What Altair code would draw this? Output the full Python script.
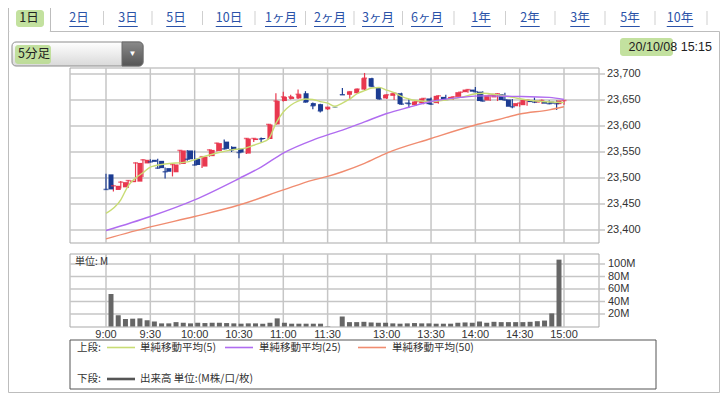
import altair as alt
import pandas as pd

# ---------------- data ----------------
tab_labels = ["1日", "2日", "3日", "5日", "10日", "1ヶ月", "2ヶ月", "3ヶ月", "6ヶ月",
              "1年", "2年", "3年", "5年", "10年"]
interval_label = "5分足"
date_label = "20/10/08"
clock_label = "15:15"

opens = [23507, 23477, 23482, 23492, 23493, 23528, 23535, 23533, 23519, 23511,
         23527, 23553, 23537, 23522, 23542, 23552, 23570, 23560, 23556, 23547,
         23573, 23577, 23575, 23603, 23648, 23652, 23653, 23663, 23644, 23642,
         23632, 23636, 23661, 23660, 23663, 23670, 23692, 23674, 23653, 23658,
         23663, 23645, 23640, 23644, 23653, 23644, 23656, 23651, 23656, 23665,
         23670, 23666, 23649, 23655, 23661, 23651, 23638, 23640, 23650, 23645,
         23648, 23647, 23642]
highs = [23508, 23487, 23494, 23496, 23530, 23536, 23536, 23537, 23520, 23527,
         23554, 23554, 23553, 23542, 23555, 23568, 23574, 23561, 23557, 23577,
         23577, 23578, 23604, 23663, 23666, 23660, 23670, 23667, 23645, 23643,
         23637, 23637, 23673, 23667, 23672, 23702, 23693, 23675, 23661, 23664,
         23664, 23652, 23648, 23654, 23655, 23659, 23660, 23657, 23666, 23671,
         23675, 23667, 23660, 23663, 23664, 23652, 23645, 23651, 23655, 23651,
         23649, 23649, 23650]
lows = [23477, 23474, 23480, 23481, 23492, 23502, 23530, 23518, 23499, 23503,
        23526, 23533, 23524, 23519, 23541, 23551, 23555, 23550, 23538, 23546,
        23569, 23569, 23574, 23602, 23647, 23651, 23652, 23645, 23632, 23626,
        23631, 23635, 23660, 23651, 23662, 23669, 23675, 23651, 23652, 23650,
        23641, 23635, 23639, 23642, 23641, 23643, 23650, 23650, 23655, 23664,
        23665, 23647, 23648, 23648, 23649, 23634, 23637, 23639, 23644, 23643,
        23642, 23631, 23641]
closes = [23478, 23485, 23492, 23495, 23529, 23535, 23531, 23519, 23512, 23526,
          23553, 23536, 23525, 23541, 23554, 23567, 23556, 23554, 23549, 23576,
          23576, 23575, 23603, 23648, 23656, 23656, 23661, 23646, 23639, 23629,
          23636, 23636, 23660, 23666, 23671, 23692, 23676, 23652, 23660, 23663,
          23642, 23643, 23647, 23653, 23642, 23658, 23651, 23656, 23665, 23670,
          23666, 23648, 23659, 23662, 23650, 23637, 23644, 23650, 23646, 23649,
          23643, 23643, 23649]
volumes = [52, 18, 12, 12.5, 13, 10, 8, 5, 5, 7,
           6, 5, 6, 5.5, 6, 6, 5.5, 5, 4.5, 5,
           5, 4.5, 6, 13, 6, 4.5, 4.5, 4.5, 4.5, 4.5,
           0.5, 0, 16, 7, 7, 7.5, 6.5, 6, 6, 5,
           4.5, 5, 5.5, 5, 5, 4.5, 4.5, 4.5, 6, 6.5,
           6, 8, 6, 7.5, 7, 7, 7, 7, 7.5, 8.5,
           9.5, 21, 107]

ma5_idx = [0, 2, 3, 4, 5, 6, 8, 11, 13, 15, 17, 19, 20, 21, 22, 23, 24, 25, 26, 27,
           28, 29, 30, 31, 32, 33, 34, 35, 36, 37, 38, 39, 40, 41, 42, 44, 46, 48,
           50, 51, 53, 55, 57, 59, 62]
ma5_val = [23432, 23458, 23485, 23500, 23510, 23521, 23527, 23531, 23540, 23548,
           23554, 23558, 23563, 23568, 23575, 23605, 23627, 23640, 23648, 23652,
           23651, 23647, 23644, 23638, 23644, 23652, 23662, 23668, 23673, 23674,
           23669, 23664, 23657, 23652, 23649, 23647, 23650, 23655, 23662, 23663,
           23660, 23655, 23650, 23647, 23645]
ma25_idx = [0, 6, 12, 18, 21, 24, 28, 30, 32, 35, 38, 41, 44, 48, 51, 55, 60, 62]
ma25_val = [23399, 23426, 23458, 23499, 23521, 23548, 23573, 23583, 23592, 23608,
            23624, 23636, 23647, 23655, 23658, 23657, 23655, 23651]
ma50_idx = [0, 6, 12, 18, 24, 28, 30, 32, 35, 38, 44, 50, 53, 56, 60, 62]
ma50_val = [23383, 23406, 23426, 23448, 23477, 23496, 23503, 23512, 23528, 23548,
            23576, 23602, 23612, 23623, 23631, 23637]

price_ticks = [23400, 23450, 23500, 23550, 23600, 23650, 23700]
vol_ticks = [20, 40, 60, 80, 100]
vol_tick_labels = ["20M", "40M", "60M", "80M", "100M"]
time_tick_idx = [0, 6, 12, 18, 24, 30, 38, 44, 50, 56, 62]
time_tick_labels = ["9:00", "9:30", "10:00", "10:30", "11:00", "11:30",
                    "13:00", "13:30", "14:00", "14:30", "15:00"]
ma_names = ["単純移動平均(5)", "単純移動平均(25)", "単純移動平均(50)"]
vol_unit_label = "単位: M"
legend_top_label = "上段:"
legend_bottom_label = "下段:"
legend_volume_label = "出来高 単位:(M株/口/枚)"

# ---------------- layout / style ----------------
W, H = 712, 385
FONT = "Liberation Sans, Noto Sans CJK JP, sans-serif"
JFONT = "Noto Sans CJK JP, sans-serif"
GRID = "#c6c6c6"
FRAME = "#a9a9a9"
TXT = "#333333"
LINK = "#2a52a8"
HILITE = "#b8dc8e"
UP, DOWN, FLAT = "#e8384f", "#1c3c92", "#7f9e9e"
MA_COLORS = ["#c8dc74", "#b06cf0", "#f08c70"]

xs = alt.Scale(domain=[0, 62], range=[98, 556], nice=False, zero=False)
ps = alt.Scale(domain=[23400, 23700], range=[222, 66], nice=False, zero=False)
vs = alt.Scale(domain=[0, 100], range=[318.5, 256], nice=False, zero=False)

PX0, PX1 = 62, 591          # price / volume panel left-right
PY0, PY1 = 60, 235          # price panel top-bottom
VY0, VY1 = 246, 319         # volume panel top-bottom

one = pd.DataFrame({"a": [0]})


def vrect(x, x2, y, y2, **kw):
    return alt.Chart(one).mark_rect(**kw).encode(
        x=alt.value(x), x2=alt.value(x2), y=alt.value(y), y2=alt.value(y2))


def vrule(x, x2, y, y2, **kw):
    return alt.Chart(one).mark_rule(**kw).encode(
        x=alt.value(x), x2=alt.value(x2), y=alt.value(y), y2=alt.value(y2))


def vtext(txt, x, y, **kw):
    kw.setdefault("font", FONT)
    kw.setdefault("baseline", "middle")
    return alt.Chart(one).mark_text(text=txt, **kw).encode(
        x=alt.value(x), y=alt.value(y))


layers = []

# ---------------- header ----------------
layers.append(vrect(0.5, 711.5, 23.5, 384.5, fill="white", stroke="#bdbdbd", strokeWidth=1))
layers.append(vrect(0.5, 42.5, -2, 23.5, fill="white", stroke="#bdbdbd", strokeWidth=1))
layers.append(vrule(1.2, 41.8, 23.5, 23.5, color="white", strokeWidth=2))

tab_cx = [21, 71, 120, 168, 221, 273, 322, 370, 419, 473, 522, 572, 622, 672]


def est_width(s, fs):
    w = 0
    for ch in s:
        w += fs * (0.56 if ch.isascii() else 1.0)
    return w


tabs = pd.DataFrame({"label": tab_labels, "cx": tab_cx})
tabs["w"] = [est_width(s, 12.5) for s in tab_labels]
tabs["u0"] = tabs["cx"] - tabs["w"] / 2
tabs["u1"] = tabs["cx"] + tabs["w"] / 2
tabs["link"] = [i > 0 for i in range(len(tab_labels))]
layers.append(vrect(8, 36, 2, 19, fill=HILITE, opacity=0.85, cornerRadius=3))
hdr = alt.Scale(domain=[0, W], range=[0, W])
layers.append(alt.Chart(tabs).mark_text(font=JFONT, fontSize=12.5, baseline="middle").encode(
    x=alt.X("cx:Q", scale=hdr, axis=None), y=alt.value(10), text="label:N",
    color=alt.condition("datum.link", alt.value(LINK), alt.value("#222222"))))
layers.append(alt.Chart(tabs[tabs["link"]]).mark_rule(color=LINK, strokeWidth=1).encode(
    x=alt.X("u0:Q", scale=hdr, axis=None), x2="u1:Q", y=alt.value(18.5)))
sep = pd.DataFrame({"sx": [(a + b) / 2 for a, b in zip(tab_cx[1:-1], tab_cx[2:])] + [699]})
layers.append(alt.Chart(sep).mark_rule(color="#cfcfcf", strokeWidth=1).encode(
    x=alt.X("sx:Q", scale=hdr, axis=None), y=alt.value(3), y2=alt.value(17)))

# dropdown
grad = alt.Gradient(gradient="linear", stops=[alt.GradientStop(color="#ffffff", offset=0),
                                              alt.GradientStop(color="#d9d9d9", offset=1)],
                    x1=0, x2=0, y1=0, y2=1)
gradb = alt.Gradient(gradient="linear", stops=[alt.GradientStop(color="#8a8a8a", offset=0),
                                               alt.GradientStop(color="#555555", offset=1)],
                     x1=0, x2=0, y1=0, y2=1)
layers.append(vrect(4, 135, 34, 58, color=grad, stroke="#8c8c8c", strokeWidth=1, cornerRadius=4))
layers.append(vrect(114, 135, 34, 58, color=gradb, stroke="#6a6a6a", strokeWidth=1,
                    cornerRadiusTopRight=4, cornerRadiusBottomRight=4))
layers.append(vtext("▼", 124.5, 46, fontSize=8, color="white", align="center"))
layers.append(vrect(7, 43, 37, 56, fill=HILITE, opacity=0.85, cornerRadius=3))
layers.append(vtext(interval_label, 10, 46, font=JFONT, fontSize=12.5, color="#222222", align="left"))

# date
layers.append(vrect(612, 665, 30, 48, fill=HILITE, opacity=0.85, cornerRadius=3))
layers.append(vtext(date_label + " " + clock_label, 704, 39, fontSize=12.5, color="#222222", align="right"))

# ---------------- price panel ----------------
layers.append(vrect(PX0, PX1, PY0, PY1, fill="white", stroke=FRAME, strokeWidth=1))
pt = pd.DataFrame({"p": price_ticks})
layers.append(alt.Chart(pt).mark_rule(color=GRID, strokeWidth=1.5).encode(
    y=alt.Y("p:Q", scale=ps, axis=None), x=alt.value(PX0), x2=alt.value(597)))
layers.append(alt.Chart(pt).mark_text(font=FONT, fontSize=11, color=TXT, align="left",
                                      baseline="middle").encode(
    y=alt.Y("p:Q", scale=ps, axis=None), x=alt.value(599), text=alt.Text("p:Q", format=",")))
tt = pd.DataFrame({"i": time_tick_idx, "label": time_tick_labels})
layers.append(alt.Chart(tt).mark_rule(color=GRID, strokeWidth=1.5).encode(
    x=alt.X("i:Q", scale=xs, axis=None), y=alt.value(PY0), y2=alt.value(PY1)))

# ---------------- volume panel ----------------
layers.append(vrect(PX0, PX1, VY0, VY1, fill="white", stroke=FRAME, strokeWidth=1))
vt = pd.DataFrame({"v": vol_ticks, "label": vol_tick_labels})
layers.append(alt.Chart(vt).mark_rule(color=GRID, strokeWidth=1.5).encode(
    y=alt.Y("v:Q", scale=vs, axis=None), x=alt.value(PX0), x2=alt.value(597)))
layers.append(alt.Chart(vt).mark_text(font=FONT, fontSize=11, color=TXT, align="left",
                                      baseline="middle").encode(
    y=alt.Y("v:Q", scale=vs, axis=None), x=alt.value(600), text="label:N"))
layers.append(alt.Chart(tt).mark_rule(color=GRID, strokeWidth=1.5).encode(
    x=alt.X("i:Q", scale=xs, axis=None), y=alt.value(VY0), y2=alt.value(VY1)))
layers.append(alt.Chart(tt).mark_text(font=FONT, fontSize=11, color=TXT, baseline="middle").encode(
    x=alt.X("i:Q", scale=xs, axis=None), y=alt.value(326.5), text="label:N"))
layers.append(vtext(vol_unit_label, 67, 253.5, font=JFONT, fontSize=10, color=TXT, align="left"))

# ---------------- candles ----------------
cd = pd.DataFrame({"i": list(range(len(opens))), "o": opens, "h": highs, "l": lows, "c": closes})
cd["dir"] = ["up" if c > o else ("down" if c < o else "flat") for o, c in zip(opens, closes)]
ccol = alt.Color("dir:N", scale=alt.Scale(domain=["up", "down", "flat"], range=[UP, DOWN, FLAT]),
                 legend=None)
layers.append(alt.Chart(cd).mark_rule(strokeWidth=1.2).encode(
    x=alt.X("i:Q", scale=xs, axis=None), y=alt.Y("l:Q", scale=ps, axis=None), y2="h:Q", color=ccol))
layers.append(alt.Chart(cd).mark_bar(size=5).encode(
    x=alt.X("i:Q", scale=xs, axis=None), y=alt.Y("o:Q", scale=ps, axis=None), y2="c:Q", color=ccol))
layers.append(alt.Chart(cd).mark_tick(orient="horizontal", size=5, thickness=1.5).encode(
    x=alt.X("i:Q", scale=xs, axis=None), y=alt.Y("c:Q", scale=ps, axis=None), color=ccol))

# ---------------- moving averages ----------------
ma = pd.concat([
    pd.DataFrame({"i": ma5_idx, "v": ma5_val, "s": "ma5"}),
    pd.DataFrame({"i": ma25_idx, "v": ma25_val, "s": "ma25"}),
    pd.DataFrame({"i": ma50_idx, "v": ma50_val, "s": "ma50"}),
])
layers.append(alt.Chart(ma).mark_line(strokeWidth=1.4, interpolate="monotone").encode(
    x=alt.X("i:Q", scale=xs, axis=None), y=alt.Y("v:Q", scale=ps, axis=None),
    color=alt.Color("s:N", scale=alt.Scale(domain=["ma5", "ma25", "ma50"], range=MA_COLORS),
                    legend=None),
    detail="s:N"))

# ---------------- volume bars ----------------
vd = pd.DataFrame({"i": list(range(len(volumes))), "v": volumes, "b": 0})
layers.append(alt.Chart(vd).mark_bar(size=5, color="#666666").encode(
    x=alt.X("i:Q", scale=xs, axis=None), y=alt.Y("v:Q", scale=vs, axis=None), y2="b:Q"))

# ---------------- legend box ----------------
layers.append(vrect(62, 648, 332, 381, fill="white", stroke="#555555", strokeWidth=1))
R1, R2 = 339.5, 371
layers.append(vtext(legend_top_label, 69, R1, font=JFONT, fontSize=10.5, color=TXT, align="left"))
for (lx0, tx), name, col in zip([(99, 132), (217, 251), (350, 384)], ma_names, MA_COLORS):
    layers.append(vrule(lx0, lx0 + 28, R1, R1, color=col, strokeWidth=1.6))
    layers.append(vtext(name, tx, R1, font=JFONT, fontSize=10.5, color=TXT, align="left"))
layers.append(vtext(legend_bottom_label, 69, R2, font=JFONT, fontSize=10.5, color=TXT, align="left"))
layers.append(vrule(99, 127, R2, R2, color="#555555", strokeWidth=2.6))
layers.append(vtext(legend_volume_label, 132, R2, font=JFONT, fontSize=10.5, color=TXT, align="left"))

chart = alt.layer(*layers).resolve_scale(
    x="independent", y="independent", color="independent"
).properties(
    width=W, height=H, padding=0, background="white",
    autosize=alt.AutoSizeParams(type="none")
).configure_view(stroke=None)

chart.save("out.html", embed_options={"renderer": "svg", "actions": False})
